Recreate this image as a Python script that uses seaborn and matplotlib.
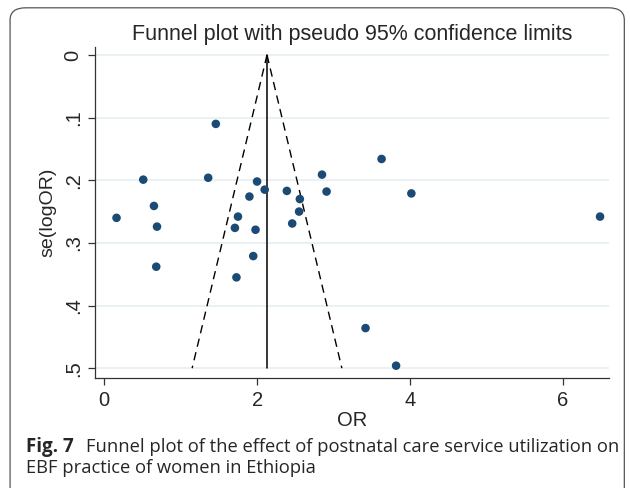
import matplotlib
matplotlib.use("Agg")
import matplotlib.pyplot as plt
import seaborn as sns
import pandas as pd
import numpy as np
from matplotlib.patches import FancyBboxPatch

# study estimates
odds_ratio = [1.46, 3.63, 0.51, 1.36, 2.00, 2.85, 2.10, 2.39, 2.91, 4.02, 1.90, 2.56,
              0.16, 0.65, 0.69, 1.75, 1.71, 1.98, 2.55, 2.46, 6.49, 0.68, 1.95, 1.73,
              3.42, 3.82]
se_log_or = [0.110, 0.166, 0.199, 0.196, 0.202, 0.191, 0.215, 0.217, 0.218, 0.221, 0.226, 0.230,
             0.260, 0.241, 0.274, 0.258, 0.276, 0.279, 0.250, 0.269, 0.258, 0.338, 0.321, 0.355,
             0.436, 0.496]
pooled_or = 2.13
se_max = 0.5
x_ticks = [0, 2, 4, 6]
y_ticks = [0, 0.1, 0.2, 0.3, 0.4, 0.5]
y_tick_labels = ["0", ".1", ".2", ".3", ".4", ".5"]

df = pd.DataFrame({"OR": odds_ratio, "se": se_log_or})

sns.set_style("white")
plt.rcParams["font.family"] = ["Liberation Sans", "DejaVu Sans"]

fig = plt.figure(figsize=(6.3, 4.88), dpi=100)
ax = fig.add_axes([0.151, 0.225, 0.816, 0.679])

# funnel
se_line = np.array([0, se_max])
ax.plot([pooled_or, pooled_or], se_line, color="black", lw=1.1, zorder=2)
ax.plot(pooled_or - 1.96 * se_line, se_line, color="black", lw=1.0, ls=(0, (6, 4)), zorder=2)
ax.plot(pooled_or + 1.96 * se_line, se_line, color="black", lw=1.0, ls=(0, (6, 4)), zorder=2)

sns.scatterplot(data=df, x="OR", y="se", ax=ax, color="#1b4a74", s=38,
                edgecolor="none", zorder=3)

ax.set_xlim(-0.12, 6.61)
ax.set_ylim(0.516, -0.013)
ax.set_xticks(x_ticks)
ax.set_xticklabels([str(t) for t in x_ticks], fontsize=14.5)
ax.set_yticks(y_ticks)
ax.set_yticklabels(y_tick_labels, fontsize=14.5, rotation=90, va="center")
ax.yaxis.grid(True, color="#e6eff1", lw=1.2)
ax.set_axisbelow(True)
for s in ["top", "right"]:
    ax.spines[s].set_visible(False)
for s in ["left", "bottom"]:
    ax.spines[s].set_color("#333333")
    ax.spines[s].set_linewidth(0.9)
ax.tick_params(axis="both", direction="out", length=5, width=0.9, color="#333333",
               left=True, bottom=True, pad=4)
ax.set_xlabel("OR", fontsize=14.5, labelpad=1)
ax.set_ylabel("se(logOR)", fontsize=14, labelpad=5)
ax.set_title("Funnel plot with pseudo 95% confidence limits", fontsize=15.5, pad=5)

# rounded outer frame
frame = FancyBboxPatch((0.016, -0.05), 0.975, 1.034, transform=fig.transFigure,
                       boxstyle="round,pad=0,rounding_size=0.025", fc="none",
                       ec="#555555", lw=0.9, zorder=0)
fig.patches.append(frame)

cap_font = ["Open Sans", "DejaVu Sans"]
fig.text(0.041, 0.074, "Fig. 7", fontsize=13.5, fontweight="bold", family=cap_font,
         va="baseline")
fig.text(0.136, 0.074, "Funnel plot of the effect of postnatal care service utilization on",
         fontsize=13.2, family=cap_font, va="baseline")
fig.text(0.041, 0.030, "EBF practice of women in Ethiopia", fontsize=13.2, family=cap_font,
         va="baseline")

fig.savefig("out.png", dpi=100)
